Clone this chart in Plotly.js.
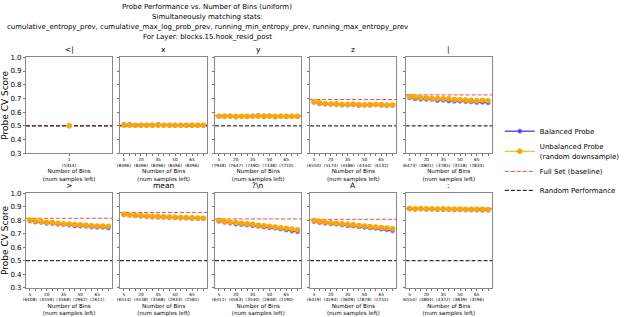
<!DOCTYPE html>
<html><head><meta charset="utf-8">
<script src="https://cdn.plot.ly/plotly-3.0.1.min.js"></script>
<style>html,body{margin:0;padding:0;background:#fff}#c{width:625px;height:317px}</style>
</head><body><div id="c"></div>
<script>
const titleLines = [
  "Probe Performance vs. Number of Bins (uniform)",
  "Simultaneously matching stats:",
  "cumulative_entropy_prev, cumulative_max_log_prob_prev, running_min_entropy_prev, running_max_entropy_prev",
  "For Layer: blocks.15.hook_resid_post"
];
const panelTitles = ["&lt;|", "x", "y", "z", "|", "&gt;", "mean", "?\\n", "A", ":"];
const bins = [5,10,15,20,25,30,35,40,45,50,55,60,65,70,75];
const labeledBins = [5,20,35,50,65];
const samplesLeft = [
  [5314],
  [8496,8496,8496,8496,8496],
  [7948,7647,7490,7338,7210],
  [6550,5174,4486,4344,4132],
  [6473,4801,3785,3158,2834],
  [6408,4559,3568,2962,2611],
  [6514,4538,3568,2933,2581],
  [6411,4563,3540,2848,2190],
  [6419,4594,3609,2878,2255],
  [6554,4804,4322,3839,3296]
];
const balanced = [
  [0.50],
  [0.51,0.51,0.505,0.505,0.505,0.505,0.51,0.505,0.505,0.505,0.505,0.505,0.505,0.505,0.505],
  [0.57,0.568,0.572,0.565,0.57,0.568,0.572,0.575,0.566,0.572,0.565,0.57,0.568,0.57,0.568],
  [0.672,0.662,0.66,0.658,0.655,0.652,0.652,0.655,0.648,0.652,0.65,0.655,0.65,0.648,0.65],
  [0.705,0.698,0.695,0.695,0.692,0.685,0.687,0.682,0.68,0.68,0.677,0.675,0.67,0.672,0.668],
  [0.795,0.788,0.785,0.778,0.776,0.77,0.768,0.765,0.758,0.757,0.755,0.75,0.748,0.748,0.743],
  [0.842,0.838,0.834,0.83,0.828,0.824,0.822,0.822,0.82,0.818,0.817,0.816,0.814,0.813,0.812],
  [0.792,0.785,0.78,0.772,0.768,0.765,0.76,0.755,0.75,0.745,0.742,0.735,0.728,0.72,0.715],
  [0.79,0.783,0.778,0.774,0.77,0.765,0.76,0.757,0.752,0.748,0.744,0.74,0.735,0.73,0.722],
  [0.884,0.882,0.883,0.882,0.881,0.88,0.88,0.879,0.878,0.878,0.877,0.876,0.876,0.875,0.875]
];
const unbalanced = [
  [0.50],
  [0.505,0.505,0.505,0.505,0.505,0.505,0.505,0.505,0.505,0.505,0.505,0.505,0.505,0.505,0.505],
  [0.57,0.572,0.57,0.57,0.57,0.57,0.571,0.57,0.572,0.57,0.57,0.57,0.57,0.57,0.57],
  [0.675,0.668,0.662,0.66,0.662,0.655,0.658,0.66,0.655,0.652,0.656,0.655,0.655,0.652,0.652],
  [0.715,0.71,0.705,0.705,0.7,0.7,0.697,0.697,0.693,0.69,0.688,0.687,0.684,0.686,0.683],
  [0.802,0.796,0.79,0.786,0.783,0.778,0.775,0.772,0.768,0.766,0.764,0.76,0.758,0.757,0.755],
  [0.845,0.84,0.838,0.835,0.832,0.83,0.828,0.826,0.824,0.822,0.821,0.82,0.818,0.817,0.815],
  [0.8,0.792,0.788,0.784,0.778,0.774,0.77,0.764,0.76,0.755,0.75,0.745,0.74,0.735,0.73],
  [0.798,0.792,0.787,0.782,0.778,0.774,0.77,0.766,0.762,0.758,0.754,0.75,0.746,0.742,0.738],
  [0.887,0.885,0.887,0.886,0.885,0.884,0.885,0.884,0.884,0.883,0.882,0.882,0.881,0.881,0.880]
];
const fullSet = [0.50,0.505,0.573,0.692,0.726,0.815,0.858,0.81,0.807,0.888];
const randomPerf = 0.5;
const yTicks = [0.3,0.4,0.5,0.6,0.7,0.8,0.9,1.0];

const W = 625, H = 317;
const colL = [27,125,224,323,422.5], colR = [117,216,314,413,512.5];
const rowT = [57.3,193.3], rowB = [153.3,287.7];
const traces = [], annotations = [];
const layout = {
  width: W, height: H, margin: {l:0,r:0,t:0,b:0},
  paper_bgcolor: '#fff', plot_bgcolor: '#fff',
  font: {family: 'DejaVu Sans', color: '#000'},
  showlegend: true,
  legend: {x: 0.833, y: 0.632, xanchor: 'left', yanchor: 'top', font: {size: 7, family: 'DejaVu Sans'},
           bgcolor: 'rgba(0,0,0,0)', tracegroupgap: 0, itemwidth: 30}
};
for (let i = 0; i < 10; i++) {
  const r = Math.floor(i/5), c = i % 5, n = i + 1;
  const xa = n === 1 ? 'x' : 'x' + n, ya = n === 1 ? 'y' : 'y' + n;
  const xk = n === 1 ? 'xaxis' : 'xaxis' + n, yk = n === 1 ? 'yaxis' : 'yaxis' + n;
  const xs = i === 0 ? [1] : bins;
  let tv, tt, rng;
  if (i === 0) { tv = [1]; tt = ['1<br>(' + samplesLeft[0][0] + ')']; rng = [0.945, 1.055]; }
  else {
    tv = bins;
    tt = bins.map(b => { const k = labeledBins.indexOf(b); return k >= 0 ? b + '<br>(' + samplesLeft[i][k] + ')' : ''; });
    rng = [1.5, 78.5];
  }
  layout[xk] = {domain: [colL[c]/W, colR[c]/W], anchor: ya, range: rng, tickmode: 'array', tickvals: tv, ticktext: tt,
    tickfont: {size: 4.3}, ticks: 'outside', ticklen: 2, tickwidth: 0.6, tickcolor: '#222',
    showline: true, mirror: true, linecolor: '#888', linewidth: 1, showgrid: false, zeroline: false,
    title: {text: 'Number of Bins<br>(num samples left)', font: {size: 5.6}, standoff: 2}};
  layout[yk] = {domain: [1 - rowB[r]/H, 1 - rowT[r]/H], anchor: xa, range: [0.3, 1.0], tickmode: 'array', tickvals: yTicks,
    ticktext: yTicks.map(v => v.toFixed(1)), showticklabels: c === 0, tickfont: {size: 7},
    ticks: 'outside', ticklen: 2, tickwidth: 0.6, tickcolor: '#222',
    showline: true, mirror: true, linecolor: '#888', linewidth: 1, showgrid: false, zeroline: false};
  if (c === 0) layout[yk].title = {text: 'Probe CV Score', font: {size: 9}, standoff: 3};
  traces.push({x: [rng[0], rng[1]], y: [fullSet[i], fullSet[i]], xaxis: xa, yaxis: ya, mode: 'lines',
    line: {color: 'rgba(255,40,40,0.85)', dash: '4px,2px', width: 1}, showlegend: false, hoverinfo: 'skip'});
  traces.push({x: [rng[0], rng[1]], y: [randomPerf, randomPerf], xaxis: xa, yaxis: ya, mode: 'lines',
    line: {color: '#000', dash: '4px,2px', width: 1}, showlegend: false, hoverinfo: 'skip'});
  traces.push({x: xs, y: balanced[i], xaxis: xa, yaxis: ya, mode: 'lines+markers', name: 'Balanced Probe',
    line: {color: '#0000ff', width: 1}, marker: {color: 'rgba(40,40,255,0.75)', size: 4.5, line: {width: 0.8, color: 'rgba(150,150,255,0.8)'}},
    showlegend: i === 0, legendrank: 1});
  traces.push({x: xs, y: unbalanced[i], xaxis: xa, yaxis: ya, mode: 'lines+markers', name: 'Unbalanced Probe<br>(random downsample)',
    line: {color: '#ffa500', width: 1}, marker: {color: '#ffa500', size: 5.5}, showlegend: i === 0, legendrank: 2});
  annotations.push({text: panelTitles[i], xref: xa + ' domain', yref: ya + ' domain', x: 0.5, y: 1, yanchor: 'bottom',
    yshift: 1, showarrow: false, font: {size: 7.5}});
}
traces.push({x: [null], y: [null], mode: 'lines', name: 'Full Set (baseline)', line: {color: 'rgba(255,40,40,0.85)', dash: '4px,2px', width: 1}, legendrank: 3});
traces.push({x: [null], y: [null], mode: 'lines', name: 'Random Performance', line: {color: '#000', dash: '4px,2px', width: 1}, legendrank: 4});
const titleY = [7, 17, 27, 37];
titleLines.forEach((t, k) => annotations.push({text: t, xref: 'paper', yref: 'paper', x: 216/W, y: 1 - titleY[k]/H,
  xanchor: 'center', yanchor: 'middle', showarrow: false, font: {size: 7}, align: 'center'}));
layout.annotations = annotations;
Plotly.newPlot('c', traces, layout, {staticPlot: true});
</script></body></html>
